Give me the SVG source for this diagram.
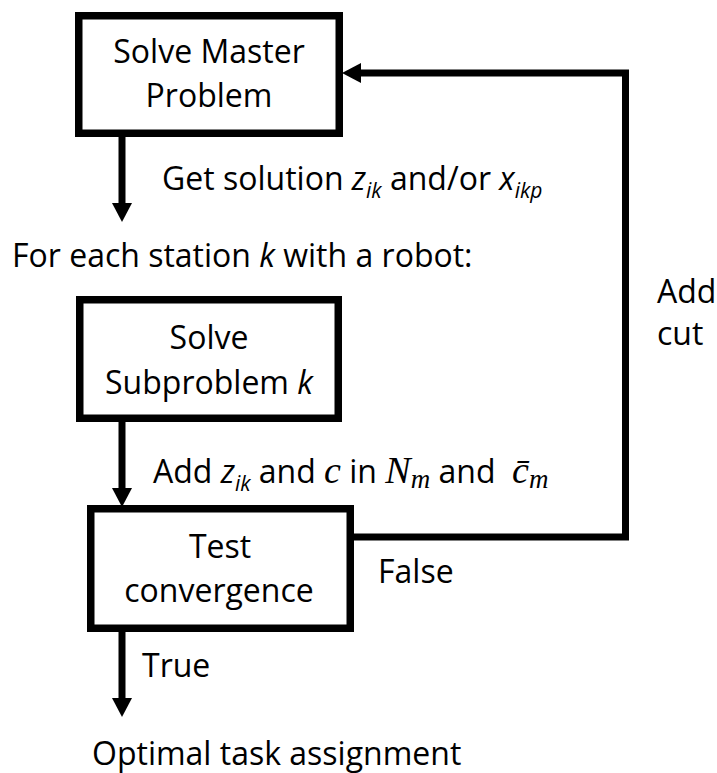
<svg xmlns="http://www.w3.org/2000/svg" width="717" height="773" viewBox="0 0 717 773">
<style>
.box{fill:#fff;stroke:#000;stroke-width:7.5}
.t{font-family:"Open Sans","Liberation Sans",sans-serif;font-size:32px;fill:#000}
.c{text-anchor:middle}
.i{font-style:italic}
.sub{font-size:21px;font-style:italic}
.m{font-family:"Liberation Serif","DejaVu Serif",serif;font-style:italic;font-size:38px}
.ms{font-family:"Liberation Serif","DejaVu Serif",serif;font-style:italic;font-size:27px}
.conn{fill:none;stroke:#000;stroke-width:7}
</style>
<defs>
<marker id="ah" markerUnits="userSpaceOnUse" markerWidth="19" markerHeight="20" refX="0" refY="10" orient="auto" overflow="visible">
<path d="M0,0 L19,10 L0,20 Z" fill="#000"/>
</marker>
</defs>
<g id="connectors">
<path class="conn" d="M122,137 V203" marker-end="url(#ah)"/>
<path class="conn" d="M122,422 V488" marker-end="url(#ah)"/>
<path class="conn" d="M122,632 V698" marker-end="url(#ah)"/>
<path class="conn" d="M354,537 H625.5 V73 H361" marker-end="url(#ah)"/>
</g>
<g id="master">
<rect class="box" x="78.75" y="15.75" width="260.5" height="117.5"/>
<text class="t c" x="209" y="63">Solve Master</text>
<text class="t c" x="209" y="107">Problem</text>
</g>
<g id="subproblem">
<rect class="box" x="79.75" y="299.75" width="258.5" height="118.5"/>
<text class="t c" x="209" y="349">Solve</text>
<text class="t c" x="209" y="394">Subproblem <tspan class="i">k</tspan></text>
</g>
<g id="test">
<rect class="box" x="90.75" y="508.75" width="259.5" height="119.5"/>
<text class="t c" x="220" y="558">Test</text>
<text class="t c" x="219" y="602">convergence</text>
</g>
<g id="labels">
<text class="t" x="162" y="190">Get solution <tspan class="i">z</tspan><tspan class="sub" dy="8">ik</tspan><tspan dy="-8"> and/or </tspan><tspan class="i">x</tspan><tspan class="sub" dy="8">ikp</tspan></text>
<text class="t" x="12" y="267">For each station <tspan class="i">k</tspan> with a robot:</text>
<text class="t" x="153" y="483" xml:space="preserve">Add <tspan class="i">z</tspan><tspan class="sub" dy="8">ik</tspan><tspan dy="-8"> and </tspan><tspan class="m">c</tspan><tspan> in </tspan><tspan class="m">N</tspan><tspan class="ms" dy="5">m</tspan><tspan dy="-5"> and  </tspan><tspan class="m">c̄</tspan><tspan class="ms" dy="5">m</tspan></text>
<text class="t" x="378" y="583">False</text>
<text class="t" x="142" y="677">True</text>
<text class="t" x="657" y="303">Add</text>
<text class="t" x="657" y="345">cut</text>
<text class="t" x="92" y="765">Optimal task assignment</text>
</g>
</svg>
